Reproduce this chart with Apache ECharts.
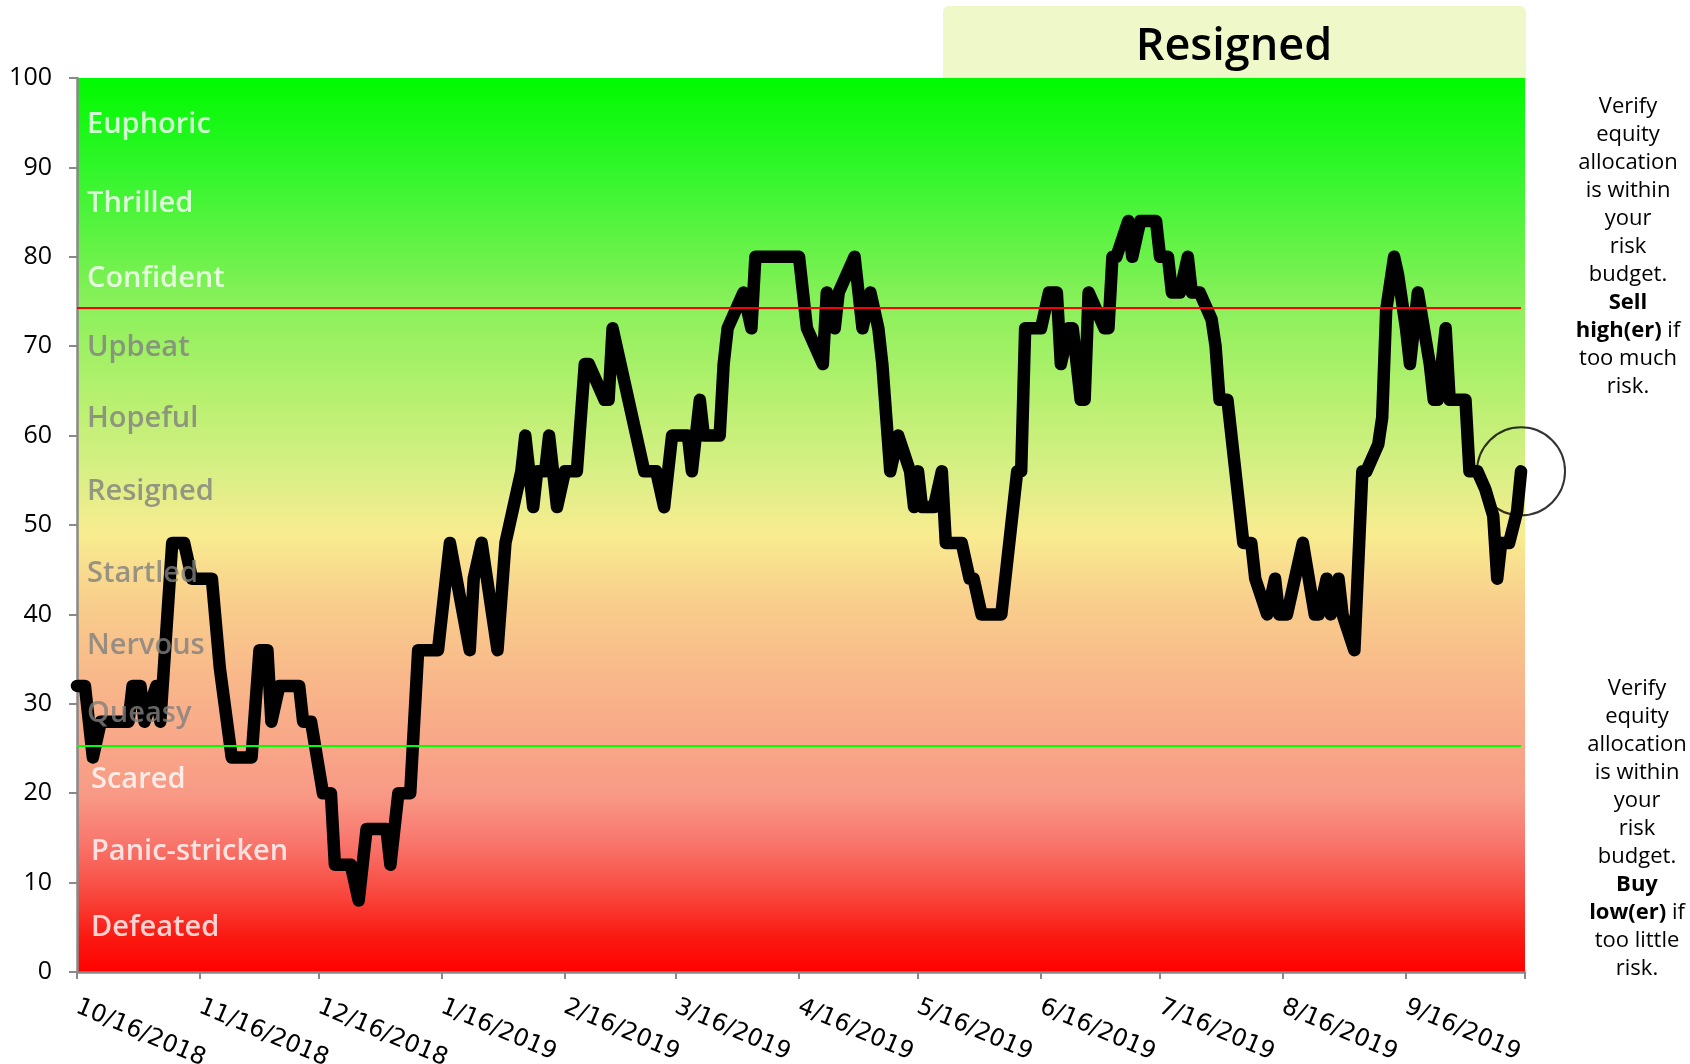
<!DOCTYPE html>
<html>
<head>
<meta charset="utf-8">
<script src="https://cdn.jsdelivr.net/npm/echarts@6/dist/echarts.min.js"></script>
<style>
html,body{margin:0;padding:0;background:#fff;}
#chart{width:1690px;height:1064px;}
</style>
</head>
<body>
<div id="chart"></div>
<script>
// ---------- data ----------
const dates = [
'2018-10-16','2018-10-18','2018-10-20','2018-10-22','2018-10-29','2018-10-30','2018-11-01','2018-11-02','2018-11-05','2018-11-06',
'2018-11-09','2018-11-12','2018-11-14','2018-11-19','2018-11-21','2018-11-24','2018-11-29','2018-12-01','2018-12-03','2018-12-04',
'2018-12-06','2018-12-11','2018-12-12','2018-12-14','2018-12-17','2018-12-19','2018-12-20','2018-12-24','2018-12-26','2018-12-28',
'2019-01-02','2019-01-03','2019-01-05','2019-01-08','2019-01-10','2019-01-15','2019-01-16','2019-01-18','2019-01-23','2019-01-24',
'2019-01-26','2019-01-30','2019-02-01','2019-02-05','2019-02-06','2019-02-08','2019-02-09','2019-02-11','2019-02-12','2019-02-14',
'2019-02-16','2019-02-19','2019-02-21','2019-02-22','2019-02-26','2019-02-27','2019-02-28','2019-03-02','2019-03-04','2019-03-06',
'2019-03-08','2019-03-11','2019-03-13','2019-03-15','2019-03-19','2019-03-20','2019-03-22','2019-03-23','2019-03-27','2019-03-28',
'2019-03-29','2019-04-02','2019-04-04','2019-04-05','2019-04-16','2019-04-18','2019-04-22','2019-04-23','2019-04-25','2019-04-26',
'2019-04-30','2019-05-02','2019-05-04','2019-05-06','2019-05-07','2019-05-09','2019-05-11','2019-05-14','2019-05-15','2019-05-16',
'2019-05-17','2019-05-20','2019-05-22','2019-05-23','2019-05-27','2019-05-29','2019-05-30','2019-06-01','2019-06-06','2019-06-10',
'2019-06-11','2019-06-12','2019-06-16','2019-06-18','2019-06-20','2019-06-21','2019-06-23','2019-06-24','2019-06-26','2019-06-27',
'2019-06-28','2019-07-02','2019-07-03','2019-07-04','2019-07-05','2019-07-08','2019-07-09','2019-07-11','2019-07-15','2019-07-16',
'2019-07-18','2019-07-19','2019-07-21','2019-07-23','2019-07-24','2019-07-26','2019-07-29','2019-07-30','2019-07-31','2019-08-02',
'2019-08-06','2019-08-08','2019-08-09','2019-08-12','2019-08-14','2019-08-15','2019-08-17','2019-08-21','2019-08-24','2019-08-25',
'2019-08-27','2019-08-28','2019-08-30','2019-08-31','2019-09-03','2019-09-05','2019-09-06','2019-09-09','2019-09-10','2019-09-11',
'2019-09-13','2019-09-14','2019-09-16','2019-09-17','2019-09-19','2019-09-22','2019-09-23','2019-09-24','2019-09-26','2019-09-27',
'2019-10-01','2019-10-02','2019-10-04','2019-10-06','2019-10-08','2019-10-09','2019-10-10','2019-10-12','2019-10-14','2019-10-15'
];
const values = [
32,32,24,28,28,32,32,28,32,28,
48,48,44,44,34,24,24,36,36,28,
32,32,28,28,20,20,12,12,8,16,
16,12,20,20,36,36,40,48,36,44,
48,36,48,56,60,52,56,56,60,52,
56,56,68,68,64,64,72,68,64,60,
56,56,52,60,60,56,64,60,60,68,
72,76,72,80,80,72,68,76,72,76,
80,72,76,72,68,56,60,56,52,56,
52,52,56,48,48,44,44,40,40,56,
56,72,72,76,76,68,72,72,64,64,
76,72,72,80,80,84,80,84,84,80,
80,76,76,80,76,76,73,70,64,64,
48,48,44,40,44,40,40,48,40,40,
44,40,44,40,36,56,56,59,62,74,
80,78,72,68,76,68,64,64,72,64,
64,56,56,54,51,44,48,48,51.5,56
];
const tickDates = ['2018-10-16','2018-11-16','2018-12-16','2019-01-16','2019-02-16','2019-03-16','2019-04-16',
                   '2019-05-16','2019-06-16','2019-07-16','2019-08-16','2019-09-16','2019-10-16'];
const labelDates = tickDates.slice(0, 12);
const zoneNames  = ['Euphoric','Thrilled','Confident','Upbeat','Hopeful','Resigned','Startled','Nervous','Queasy','Scared','Panic-stricken','Defeated'];
const zoneLevels = [94.8, 85.9, 77.6, 69.8, 61.9, 53.7, 44.5, 36.5, 28.9, 21.5, 13.4, 5.0];
const zoneLight  = [true, true, true, false, false, false, false, false, false, true, true, true];
const upperThreshold = 74.3;
const lowerThreshold = 25.3;
const currentState = 'Resigned';

// ---------- chart ----------
const ts = d => { const p = d.split('-'); return Date.UTC(+p[0], +p[1]-1, +p[2]); };
const fmt = v => { const d = new Date(v); return (d.getUTCMonth()+1) + '/' + d.getUTCDate() + '/' + d.getUTCFullYear(); };
const lineData = dates.map((d, i) => [ts(d), values[i]]);
const last = lineData[lineData.length - 1];

const chart = echarts.init(document.getElementById('chart'), null, {renderer: 'canvas'});
const gridL = 77, gridR = 165, gridT = 78, gridB = 92;

const option = {
  animation: false,
  backgroundColor: '#ffffff',
  grid: {
    left: gridL, right: gridR, top: gridT, bottom: gridB,
    containLabel: false, outerBoundsMode: 'none',
    show: true, borderWidth: 0,
    backgroundColor: {
      type: 'linear', x: 0, y: 0, x2: 0, y2: 1,
      colorStops: [
        {offset: 0.00, color: '#00fa00'},
        {offset: 0.10, color: '#30f62a'},
        {offset: 0.25, color: '#88f05a'},
        {offset: 0.36, color: '#b8f070'},
        {offset: 0.44, color: '#d8ef85'},
        {offset: 0.51, color: '#f8ec90'},
        {offset: 0.59, color: '#f8cd8c'},
        {offset: 0.67, color: '#f8b88a'},
        {offset: 0.74, color: '#f8a888'},
        {offset: 0.80, color: '#f89a86'},
        {offset: 0.85, color: '#f87a70'},
        {offset: 0.91, color: '#f84a40'},
        {offset: 0.96, color: '#fa1a12'},
        {offset: 1.00, color: '#ff0000'}
      ]
    }
  },
  xAxis: {
    type: 'value',
    min: ts(tickDates[0]), max: ts(tickDates[tickDates.length - 1]),
    splitLine: {show: false},
    axisLine: {show: true, lineStyle: {color: '#898989', width: 2.5}},
    axisTick: {show: true, length: 7, lineStyle: {color: '#898989', width: 2}, customValues: tickDates.map(ts)},
    axisLabel: {
      customValues: labelDates.map(ts), formatter: v => fmt(v),
      rotate: -23, margin: 34, hideOverlap: false, showMinLabel: true, showMaxLabel: true,
      fontFamily: 'DejaVu Sans', fontSize: 24, color: '#000'
    }
  },
  yAxis: {
    type: 'value', min: 0, max: 100, interval: 10,
    splitLine: {show: false},
    axisLine: {show: true, lineStyle: {color: '#898989', width: 2.5}},
    axisTick: {show: true, inside: false, length: 8, lineStyle: {color: '#898989', width: 2}},
    axisLabel: {margin: 25, fontFamily: 'Open Sans', fontSize: 25, color: '#000'}
  },
  series: [
    {
      type: 'line', data: lineData, showSymbol: false, z: 3,
      lineStyle: {color: '#000', width: 12.5, join: 'round', cap: 'round'},
      markLine: {
        silent: true, symbol: 'none', label: {show: false},
        data: [
          [{coord: [lineData[0][0], upperThreshold], lineStyle: {color: '#ff0000', width: 1.8, type: 'solid'}},
           {coord: [last[0], upperThreshold]}],
          [{coord: [lineData[0][0], lowerThreshold], lineStyle: {color: '#00ff00', width: 1.8, type: 'solid'}},
           {coord: [last[0], lowerThreshold]}]
        ]
      }
    },
    {
      type: 'scatter', z: 5, symbolSize: 0, silent: true,
      data: zoneNames.map((n, i) => ({
        value: [ts(dates[0]), zoneLevels[i]], name: n,
        label: {color: zoneLight[i] ? '#ffffff' : '#7f7f7f', distance: i >= 9 ? 14 : 10}
      })),
      label: {
        show: true, position: 'right', formatter: p => p.name,
        fontFamily: 'Open Sans', fontSize: 29, fontWeight: 600
      }
    },
    {
      type: 'scatter', z: 6, silent: true, symbol: 'circle', symbolSize: 88,
      data: [last],
      itemStyle: {color: 'rgba(0,0,0,0)', borderColor: '#000', borderWidth: 2}
    }
  ],
  graphic: [
    {
      type: 'rect', left: 943, top: 6, z: 1,
      shape: {width: 583, height: 72, r: [6, 6, 0, 0]},
      style: {fill: '#eff8c8'}
    },
    {
      type: 'text', x: 1234, y: 47, z: 2,
      style: {text: currentState, fontFamily: 'Open Sans', fontSize: 45, fontWeight: 600, fill: '#000',
              align: 'center', verticalAlign: 'middle'}
    },
    {
      type: 'text', x: 1628, y: 93, z: 2,
      style: {
        text: 'Verify\nequity\nallocation\nis within\nyour\nrisk\nbudget.\n{b|Sell}\n{b|high(er)} if\ntoo much\nrisk.',
        align: 'center', verticalAlign: 'top', fontFamily: 'Open Sans', fontSize: 22, lineHeight: 28, fill: '#000',
        rich: {b: {fontFamily: 'Open Sans', fontSize: 22, fontWeight: 'bold', lineHeight: 28, fill: '#000'}}
      }
    },
    {
      type: 'text', x: 1637, y: 675, z: 2,
      style: {
        text: 'Verify\nequity\nallocation\nis within\nyour\nrisk\nbudget.\n{b|Buy}\n{b|low(er)} if\ntoo little\nrisk.',
        align: 'center', verticalAlign: 'top', fontFamily: 'Open Sans', fontSize: 22, lineHeight: 28, fill: '#000',
        rich: {b: {fontFamily: 'Open Sans', fontSize: 22, fontWeight: 'bold', lineHeight: 28, fill: '#000'}}
      }
    }
  ]
};
chart.setOption(option);
</script>
</body>
</html>
